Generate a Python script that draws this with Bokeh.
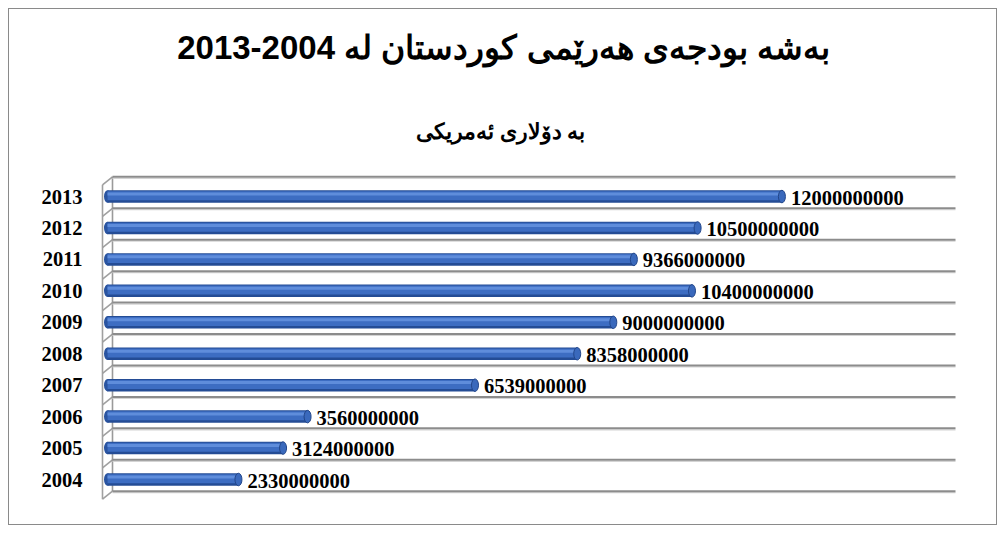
import numpy as np
from bokeh.plotting import figure
from bokeh.models import Label, FixedTicker, Range1d
from bokeh.core.properties import value
from bokeh.embed import file_html
from bokeh.resources import INLINE

# ---------------- data ----------------
years = ["2004", "2005", "2006", "2007", "2008", "2009", "2010", "2011", "2012", "2013"]
budgets = [2330000000, 3124000000, 3560000000, 6539000000, 8358000000,
           9000000000, 10400000000, 9366000000, 10500000000, 12000000000]
value_labels = [str(v) for v in budgets]
title_text = "بەشە بودجەی هەرێمی کوردستان لە 2004-2013"
subtitle_text = "بە دۆلاری ئەمریکی"
axis_max = 15000000000

# ---------------- layout (page pixels) ----------------
ORIG = 9                                   # page position of the figure content
FIG_W, FIG_H = 989, 517
FL, FR, FT, FB = 95, 960, 20, 505          # frame edges on the page
X0_PX = 107                                # page x of value 0 (bar plane)
PX_PER_X = 56.2 / 1e9                      # pixels per dollar
Y0_PX = 479                                # page y of first category centre
PX_PER_Y = 31.44                           # pixels per category

def dx(px):
    return px / PX_PER_X

def dy(px):
    return px / PX_PER_Y

def page_x(px):
    return (px - X0_PX) / PX_PER_X

def page_y(py):
    return (Y0_PX - py) / PX_PER_Y

n = len(years)
idx = np.arange(n)

p = figure(width=FIG_W, height=FIG_H, output_backend="svg", toolbar_location=None,
           x_range=Range1d(page_x(FL), page_x(FR)),
           y_range=Range1d(page_y(FB), page_y(FT)),
           min_border_left=FL - ORIG, min_border_right=ORIG + FIG_W - FR,
           min_border_top=FT - ORIG, min_border_bottom=ORIG + FIG_H - FB)
p.title = None
p.outline_line_color = None
p.xgrid.visible = False
p.ygrid.visible = False
p.xaxis.visible = False
p.background_fill_color = "white"
p.border_fill_color = "white"
p.styles = {"border": "1px solid #8a8a8a", "margin": "8px 0px 0px 8px"}

# ---------------- 3D walls ----------------
bounds = np.array(idx.tolist() + [n], dtype=float) - 0.5
xb = 0 + dx(5)
xf = 0 - dx(5)
yb = bounds + dy(4)
yf = bounds - dy(4)

# side wall diagonals
p.segment(x0=[xb] * len(yb), y0=yb, x1=[xf] * len(yf), y1=yf,
          line_color="#a0a0a0", line_width=1.6)
# front vertical edge
p.segment(x0=[xf], y0=[yf[0]], x1=[xf], y1=[yf[-1]], line_color="#a0a0a0", line_width=1.6)
# back vertical edge
p.segment(x0=[xb], y0=[yb[0]], x1=[xb], y1=[yb[-1]], line_color="#9a9a9a", line_width=1.6)
# back wall gridlines (light shadow then line)
p.segment(x0=[xb] * len(yb), y0=yb - dy(1.5), x1=[axis_max + dx(5)] * len(yb), y1=yb - dy(1.5),
          line_color="#d4d4d4", line_width=1.2)
p.segment(x0=[xb] * len(yb), y0=yb, x1=[axis_max + dx(5)] * len(yb), y1=yb,
          line_color="#8c8c8c", line_width=2)

# ---------------- cylinder bars ----------------
BH = 12.5
p.ellipse(x=[0] * n, y=idx, width=7, height=BH, width_units="screen", height_units="screen",
          fill_color="#2A54A0", line_color=None)
p.hbar(y=idx, left=0, right=budgets, height=dy(BH), fill_color="#244C95", line_color=None)
p.hbar(y=idx + dy(0.8), left=0, right=budgets, height=dy(9), fill_color="#3D6DC2", line_color=None)
p.hbar(y=idx + dy(2.6), left=0, right=budgets, height=dy(3), fill_color="#5F8DDB", line_color=None)
p.ellipse(x=budgets, y=idx, width=7, height=BH, width_units="screen", height_units="screen",
          fill_color="#3A69BC", line_color="#22468A", line_width=1)

# value labels
p.text(x=budgets, y=idx, text=value_labels, x_offset=9, y_offset=1, text_baseline="middle",
       text_align="left", text_font=value("Liberation Serif"), text_font_style="bold",
       text_font_size="20.5px", text_color="black")

# ---------------- y axis ----------------
p.yaxis.ticker = FixedTicker(ticks=idx.tolist())
p.yaxis.major_label_overrides = {int(i): years[i] for i in idx}
p.yaxis.axis_line_color = None
p.yaxis.major_tick_line_color = None
p.yaxis.minor_tick_line_color = None
p.yaxis.major_label_standoff = 7
p.yaxis.major_label_text_font = "Liberation Serif"
p.yaxis.major_label_text_font_style = "bold"
p.yaxis.major_label_text_font_size = "20.5px"
p.yaxis.major_label_text_color = "black"

# ---------------- titles ----------------
p.add_layout(Label(x=page_x(503), y=page_y(47), text=title_text, text_align="center",
                   text_baseline="middle", text_font="Liberation Sans", text_font_style="bold",
                   text_font_size="33px", text_color="black"))
p.add_layout(Label(x=page_x(500), y=page_y(131), text=subtitle_text, text_align="center",
                   text_baseline="middle", text_font="Liberation Sans", text_font_style="bold",
                   text_font_size="21.5px", text_color="black"))

open("out.html", "w").write(file_html(p, INLINE))
